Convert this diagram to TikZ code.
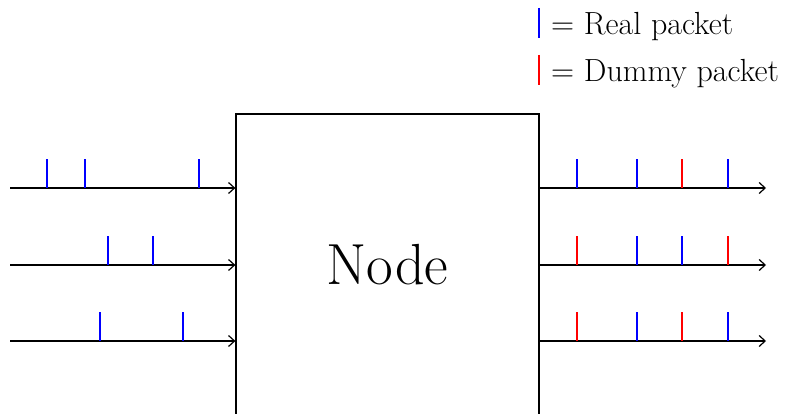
\documentclass[tikz,border=0pt]{standalone}
\usetikzlibrary{arrows.meta}
\begin{document}
\begin{tikzpicture}[x=1pt,y=-1pt,
  flow/.style={line width=1.2pt,-{Straight Barb[length=6pt,width=11pt,line width=1.2pt]}},
  realpk/.style={blue,line width=1.3pt},
  dummypk/.style={red,line width=1.3pt},
  boxnode/.style={draw,line width=1.2pt,minimum width=303pt,minimum height=302pt,inner sep=0pt,font=\fontsize{58}{62}\selectfont},
  legendtext/.style={anchor=base west,inner sep=0pt,font=\fontsize{32}{36}\selectfont}]
\useasboundingbox (0,0) rectangle (795,414);
\clip (0,0) rectangle (795,414);
\node[boxnode] (box) at (387.5,265) {Node};
% inputs and outputs
\foreach \y [count=\i] in {188,265,341} {
  \coordinate (in\i) at (10,\y);
  \coordinate (out\i) at (766,\y);
  \draw[flow] (in\i) -- (box.west |- in\i);
  \draw[flow] (box.east |- out\i) -- (out\i);
}
% left packets
\foreach \x in {47,85,199} \draw[realpk] (\x,188) -- (\x,159);
\foreach \x in {108,153} \draw[realpk] (\x,265) -- (\x,236);
\foreach \x in {100,183} \draw[realpk] (\x,341) -- (\x,312);
% right packets
\foreach \x/\s in {577/realpk,637/realpk,682/dummypk,728/realpk} \draw[\s] (\x,188) -- (\x,159);
\foreach \x/\s in {577/dummypk,637/realpk,682/realpk,728/dummypk} \draw[\s] (\x,265) -- (\x,236);
\foreach \x/\s in {577/dummypk,637/realpk,682/dummypk,728/realpk} \draw[\s] (\x,341) -- (\x,312);
% legend
\draw[realpk] (539,8) -- (539,38);
\draw[dummypk] (539,55) -- (539,85);
\node[legendtext] (lreal) at (551,35) {= Real packet};
\node[legendtext] (ldummy) at (551,82) {= Dummy packet};
\end{tikzpicture}
\end{document}
